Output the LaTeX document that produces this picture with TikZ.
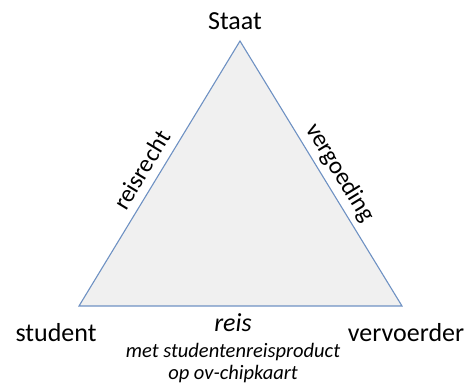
\documentclass[tikz,border=0pt]{standalone}
\usepackage{fontspec}
\setmainfont{Carlito}
\definecolor{edgeblue}{RGB}{110,145,195}
\begin{document}
\begin{tikzpicture}[x=1pt,y=-1pt,
  side/.style={draw=edgeblue,line width=1.1pt,fill=gray!12,line join=miter},
  big/.style={font=\fontsize{26}{30}\selectfont,inner sep=0pt},
  edgelabel/.style={font=\fontsize{24.5}{28}\selectfont,inner sep=0pt,sloped,anchor=south},
  small/.style={font=\fontsize{20.5}{24}\selectfont\itshape,inner sep=0pt}]
\useasboundingbox (0,0) rectangle (467,385);
\coordinate (top) at (240,41);
\coordinate (left) at (79,306);
\coordinate (right) at (402,306);
\draw[side] (left) -- node[edgelabel,above=8pt,pos=0.48]{reisrecht} (top)
  -- node[edgelabel,above=5pt,pos=0.53]{vergoeding} (right) -- cycle;
\node[big,anchor=base,name=staat] at (235,30){Staat};
\node[big,anchor=base,name=student] at (56,342){student};
\node[big,anchor=base,name=vervoerder] at (406,342){vervoerder};
\node[big,anchor=base,name=reis] at (233,332){\itshape reis};
\node[small,anchor=base,name=met] at (233,358){met studentenreisproduct};
\node[small,anchor=base,name=op] at (233,380){op ov-chipkaart};
\end{tikzpicture}
\end{document}
